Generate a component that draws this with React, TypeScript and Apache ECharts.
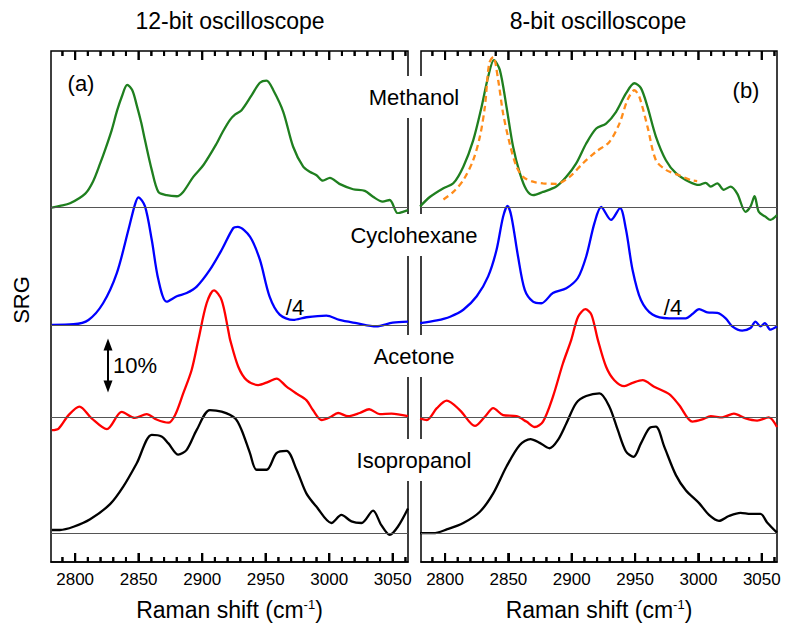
import React, { useEffect, useRef } from 'react';
import * as echarts from 'echarts';

// ---------- axes ----------
const X_MIN = 2781;
const X_MAX = 3062;
const Y_MIN = 0;
const Y_MAX = 95;
const majorTicks = [2800, 2850, 2900, 2950, 3000, 3050];
const minorTicks = [2790, 2800, 2810, 2820, 2830, 2840, 2850, 2860, 2870, 2880, 2890, 2900, 2910, 2920, 2930, 2940, 2950, 2960, 2970, 2980, 2990, 3000, 3010, 3020, 3030, 3040, 3050, 3060];

// ---------- baselines (SRG %, stacked offsets) ----------
const offMethanol = 65.9;
const offCyclohexane = 44.1;
const offAcetone = 27.0;
const offIsopropanol = 5.35;

const panelTitles = ['12-bit oscilloscope', '8-bit oscilloscope'];
const compoundNames = ['Methanol', 'Cyclohexane', 'Acetone', 'Isopropanol'];

// ---------- 12-bit oscilloscope (a) ----------
const methanol12: [number, number][] = [
  [2781.7, 0], [2788, 0.3], [2796, 0.8], [2808, 2.6], [2814, 4.8], [2819.7, 8.2], [2824, 11], [2828.8, 14.4],
  [2833, 18], [2836.7, 20.6], [2841, 22.8], [2845, 21.8], [2848.5, 19.0], [2852, 15.8], [2855, 12.5], [2860.3, 7.0],
  [2865.5, 2.9], [2872, 2.3], [2880, 2.1], [2885, 2.9], [2893, 5.7], [2901, 7.9], [2911.4, 11.9], [2916, 14],
  [2921.9, 16.3], [2926, 17.3], [2931, 18.1], [2939, 20.9], [2945.4, 23.2], [2950.7, 23.6], [2956, 21.8],
  [2963.8, 17.8], [2971.6, 11.3], [2979.5, 7.6], [2985, 6.6], [2990, 6.0], [2995, 5.0], [3000.5, 5.5], [3008, 4.4],
  [3018.8, 3.4], [3028, 3.1], [3034.5, 2.0], [3042, 1.1], [3047.6, 1.4], [3054, -1.1], [3058, -0.8], [3062, -0.5],
];
const cyclohexane12: [number, number][] = [
  [2781.7, 0], [2798.7, 0.1], [2810.5, 0.9], [2822, 4.0], [2832.8, 9.6], [2842, 17.7], [2847, 22.3], [2849.8, 23.7],
  [2855, 22.0], [2860.3, 15.8], [2865.5, 8.4], [2872, 4.3], [2880, 5.3], [2887.8, 5.9], [2895.7, 7.1], [2906, 10.2],
  [2915.3, 13.9], [2924.5, 18.0], [2928, 18.2], [2937.6, 16.4], [2945.4, 12.1], [2953, 5.3], [2961, 1.9],
  [2971.6, 0.9], [2982, 1.4], [2997.8, 1.7], [3008, 0.9], [3021.5, 0.3], [3037, -0.3], [3050, 0.4], [3062, 0.6],
];
const acetone12: [number, number][] = [
  [2781.7, -2.5], [2787, -2.2], [2794.8, 0.3], [2803.4, 1.9], [2813, -0.3], [2825, -2.3], [2836.7, 0.9],
  [2847, -0.2], [2856.3, 0.5], [2864, -0.5], [2873.4, -1.1], [2878.6, 0.3], [2885, 4.3], [2891.7, 8.7],
  [2897, 14.3], [2903.5, 21.1], [2909.3, 23.5], [2915.3, 21.7], [2920.5, 16.1], [2922, 14.3], [2928.4, 9.3],
  [2935, 6.8], [2944, 5.9], [2952, 6.5], [2958.5, 7.1], [2966.4, 5.6], [2974.3, 4.3], [2982, 3.1], [2987.3, 1.2],
  [2994, -0.6], [3000.5, -0.1], [3007, 0.7], [3014.8, 0.1], [3024, 0.7], [3031.4, 1.4], [3039.8, 0.5],
  [3049, 0.6], [3062, 0.1],
];
const isopropanol12: [number, number][] = [
  [2781.7, 0.6], [2788, 0.6], [2798.7, 1.2], [2811.8, 2.6], [2827.5, 5.4], [2838, 8.7], [2848.5, 13.0],
  [2860.3, 18.3], [2868, 18.0], [2873.4, 16.7], [2881.2, 14.6], [2887.8, 15.5], [2895.7, 19.2], [2906, 22.9],
  [2915.3, 22.6], [2925.8, 21.4], [2931, 19.2], [2937.6, 14.9], [2942.8, 11.8], [2950.7, 11.8], [2958.5, 14.9],
  [2966.4, 15.3], [2974.3, 11.8], [2982, 7.4], [2990, 4.9], [3001.7, 1.9], [3009.6, 3.4], [3017.5, 2.2],
  [3025.4, 1.9], [3034.5, 4.2], [3041, 1.5], [3047.6, -0.3], [3054, 1.2], [3062, 4.6],
];

// ---------- 8-bit oscilloscope (b) ----------
const methanol8: [number, number][] = [
  [2780.3, 0.2], [2788.2, 2.0], [2798.7, 3.6], [2806.5, 4.5], [2814.4, 7.6], [2822.2, 12.5], [2828.8, 18.7],
  [2834, 24.3], [2838.5, 27.4], [2843.2, 25.6], [2848.5, 18.7], [2853.7, 11.3], [2859, 6.4], [2864.2, 3.3],
  [2869.4, 2.3], [2877.3, 2.9], [2887.8, 3.9], [2895.7, 5.7], [2903.5, 8.2], [2911.4, 11.9], [2919.3, 14.7],
  [2927.1, 15.6], [2935, 17.8], [2942.8, 21.2], [2949.4, 23.1], [2954.6, 22.2], [2959.8, 18.7], [2966.4, 13.2],
  [2974.3, 8.8], [2982.2, 6.4], [2992.6, 4.8], [3000.5, 4.2], [3005.7, 4.6], [3009.7, 3.9], [3014.9, 4.5],
  [3020, 3.3], [3025.4, 3.9], [3030.6, 2.6], [3037.2, -0.8], [3041.1, 0.2], [3044.3, 2.1], [3047.6, -0.8],
  [3052.9, -1.7], [3056.8, -2.3], [3062, -1.4],
];
const methanolRef8: [number, number][] = [
  [2798.7, 1.5], [2806.5, 2.9], [2814.4, 5.1], [2822.2, 8.8], [2827.5, 13.2], [2831.4, 18.7], [2834.8, 26.8],
  [2838, 28.0], [2841.9, 23.7], [2845.8, 17.5], [2851, 11.9], [2856.4, 7.6], [2861.6, 5.7], [2869.4, 4.8],
  [2877.3, 4.5], [2887.8, 4.4], [2898.3, 5.7], [2908.7, 8.2], [2919.3, 10.4], [2929.7, 12.2], [2937.6, 15.6],
  [2944, 20.0], [2949.4, 21.8], [2953.3, 20.6], [2959.8, 15.0], [2966.4, 8.8], [2974.3, 7.0], [2984.7, 6.0],
  [2994, 5.1], [2999, 4.9],
];
const cyclohexane8: [number, number][] = [
  [2780.3, 0.3], [2793.5, 0.8], [2804, 1.5], [2814.4, 2.8], [2825, 5.3], [2834, 9.0], [2840.6, 13.9],
  [2845.8, 20.1], [2849.3, 22.1], [2852.4, 20.1], [2857.6, 12.7], [2862.9, 6.5], [2869.4, 4.3], [2876, 4.0],
  [2885.1, 5.9], [2895.7, 6.8], [2904.8, 8.7], [2911.4, 12.7], [2917.9, 18.9], [2923.2, 21.9], [2931, 19.5],
  [2938.1, 21.7], [2942.8, 17.7], [2948, 10.2], [2954.6, 4.6], [2963.7, 1.9], [2976.9, 1.2], [2990, 1.2],
  [2995.2, 2.0], [3000.5, 2.9], [3007, 2.3], [3014.9, 2.2], [3021.5, 1.2], [3026.7, -0.3], [3034.5, -1.1],
  [3041.1, -0.6], [3045, 0.6], [3049, -0.3], [3052.4, 0.3], [3056.8, -0.9], [3062, -0.3],
];
const acetone8: [number, number][] = [
  [2780.3, -0.3], [2785.6, -0.6], [2793.5, 1.6], [2801.3, 3.0], [2811.8, 1.2], [2823.6, -1.7], [2831.4, 0],
  [2838, 1.6], [2845.8, 0.3], [2856.4, 0.1], [2864.2, -0.9], [2870.8, -1.9], [2877.3, -0.9], [2885.1, 3.7],
  [2893, 9.9], [2899.6, 14.3], [2905, 18.6], [2910.8, 20.0], [2915.5, 19.0], [2920.6, 14.3], [2927.1, 9.3],
  [2933.6, 6.8], [2941.5, 5.7], [2948, 6.3], [2955.9, 6.8], [2965, 5.6], [2976.9, 4.2], [2984.7, 2.2],
  [2995.2, -0.9], [3003, -0.5], [3009.7, 0.1], [3018.8, -0.1], [3028, 0.6], [3037.2, -0.3], [3046.3, -0.7],
  [3055.5, -0.1], [3062, -1.9],
];
const isopropanol8: [number, number][] = [
  [2780.3, 0], [2790.8, 0], [2801.3, 0.7], [2814.4, 1.9], [2827.5, 4.0], [2838, 7.4], [2848.5, 12.4],
  [2859, 16.4], [2867.4, 17.5], [2874.7, 16.8], [2882.5, 15.8], [2889, 17.3], [2895.7, 20.4], [2903.5, 24.2],
  [2911.4, 25.5], [2921.9, 26.0], [2929.7, 23.5], [2936.3, 19.2], [2942.8, 15.2], [2948.8, 14.2],
  [2954.6, 16.7], [2961.2, 19.5], [2966.4, 19.8], [2973, 16.1], [2982.2, 10.8], [2990, 8.0], [3000.5, 5.6],
  [3008.3, 3.4], [3016.2, 2.3], [3024, 3.2], [3033.2, 3.8], [3041.1, 3.6], [3049, 3.6], [3054.2, 2.0],
  [3062, 0.1],
];

// ---------- layout ----------
const FONT = 'Liberation Sans, Arial, Helvetica, sans-serif';
const GRID_TOP = 51;
const GRID_H = 511;
const GRIDS = [
  { left: 51, width: 357 },
  { left: 421, width: 356 },
];
const PX_PER_UNIT = GRID_H / (Y_MAX - Y_MIN);
const MAJOR_LEN = 9;
const MINOR_LEN = 5;
const TICK_W = 2;

function makeXAxis(gridIndex: number) {
  return {
    type: 'value',
    gridIndex,
    position: 'bottom',
    min: X_MIN,
    max: X_MAX,
    splitLine: { show: false },
    axisLine: { show: true, onZero: false, lineStyle: { color: '#000', width: 1.5 } },
    axisTick: {
      show: true,
      inside: true,
      length: MAJOR_LEN,
      customValues: majorTicks,
      lineStyle: { color: '#000', width: TICK_W },
    },
    axisLabel: {
      show: true,
      customValues: majorTicks,
      color: '#000',
      fontSize: 17,
      fontFamily: FONT,
      margin: 9,
      formatter: (v: number) => String(Math.round(v)),
    },
    name: '{n|Raman shift (cm}{s|-1}{n|)}',
    nameLocation: 'middle',
    nameGap: 36,
    nameTextStyle: {
      rich: {
        n: { fontSize: 23, fontFamily: FONT, color: '#000' },
        s: { fontSize: 13, fontFamily: FONT, color: '#000', verticalAlign: 'top' },
      },
    },
  };
}

// inward ticks (bottom & top) placed through the axis scales
function makeTicks(gridIndex: number) {
  return {
    type: 'custom',
    xAxisIndex: gridIndex,
    yAxisIndex: gridIndex,
    data: minorTicks.map((t) => [t, Y_MIN]),
    renderItem: (params: any, api: any) => {
      const x = api.value(0);
      const b = api.coord([x, Y_MIN]);
      const t = api.coord([x, Y_MAX]);
      const len = majorTicks.indexOf(x) >= 0 ? MAJOR_LEN : MINOR_LEN;
      return {
        type: 'group',
        children: [
          { type: 'line', shape: { x1: b[0], y1: b[1], x2: b[0], y2: b[1] - len }, style: { stroke: '#000', lineWidth: TICK_W } },
          { type: 'line', shape: { x1: t[0], y1: t[1], x2: t[0], y2: t[1] + len }, style: { stroke: '#000', lineWidth: TICK_W } },
        ],
      };
    },
  };
}

function makeLine(
  name: string,
  data: [number, number][],
  offset: number,
  color: string,
  gridIndex: number,
  dashed = false,
  baseline = true,
) {
  const s: any = {
    name,
    type: 'line',
    xAxisIndex: gridIndex,
    yAxisIndex: gridIndex,
    data: data.map(([x, v]) => [x, v + offset]),
    showSymbol: false,
    symbol: 'none',
    smooth: 0.3,
    lineStyle: { color, width: 2.3, type: dashed ? [6, 4] : 'solid' },
  };
  if (baseline) {
    s.markLine = {
      silent: true,
      symbol: ['none', 'none'],
      label: { show: false },
      lineStyle: { color: '#555', width: 1, type: 'solid' },
      data: [{ yAxis: offset }],
    };
  }
  return s;
}

function txt(text: string, x: number, y: number, size: number, extra: any = {}) {
  return {
    type: 'text',
    x,
    y,
    z: 100,
    ...extra,
    style: {
      text,
      font: `${size}px ${FONT}`,
      fill: '#000',
      align: 'center',
      verticalAlign: 'middle',
      ...(extra.style || {}),
    },
  };
}

export default function App() {
  const ref = useRef<HTMLDivElement>(null);

  useEffect(() => {
    if (!ref.current) return;
    const chart = echarts.init(ref.current, undefined, { renderer: 'svg' });

    const arrowX = 108;
    const arrowMid = 365.5;
    const arrowTop = arrowMid - 5 * PX_PER_UNIT;
    const arrowBot = arrowMid + 5 * PX_PER_UNIT;
    const whiteBox = { style: { backgroundColor: '#fff', padding: [10, 4, 10, 4] } };

    const option: any = {
      animation: false,
      grid: GRIDS.map((g) => ({
        left: g.left,
        width: g.width,
        top: GRID_TOP,
        height: GRID_H,
        show: true,
        borderColor: '#000',
        borderWidth: 1.5,
      })),
      xAxis: [makeXAxis(0), makeXAxis(1)],
      yAxis: [0, 1].map((gi) => ({
        type: 'value',
        gridIndex: gi,
        min: Y_MIN,
        max: Y_MAX,
        show: false,
      })),
      series: [
        makeLine('Methanol (12-bit)', methanol12, offMethanol, '#1f7f1f', 0),
        makeLine('Cyclohexane (12-bit)', cyclohexane12, offCyclohexane, '#0000ff', 0),
        makeLine('Acetone (12-bit)', acetone12, offAcetone, '#ff0000', 0),
        makeLine('Isopropanol (12-bit)', isopropanol12, offIsopropanol, '#000000', 0),
        makeLine('Methanol (8-bit)', methanol8, offMethanol, '#1f7f1f', 1),
        makeLine('Methanol reference', methanolRef8, offMethanol, '#ff8c1a', 1, true, false),
        makeLine('Cyclohexane (8-bit)', cyclohexane8, offCyclohexane, '#0000ff', 1),
        makeLine('Acetone (8-bit)', acetone8, offAcetone, '#ff0000', 1),
        makeLine('Isopropanol (8-bit)', isopropanol8, offIsopropanol, '#000000', 1),
        makeTicks(0),
        makeTicks(1),
      ],
    };

    chart.setOption(option);

    // the same ticks once more as graphic lines, through the axes' own scales
    const tickEls: any[] = [];
    [0, 1].forEach((gi) => {
      const yb = chart.convertToPixel({ yAxisIndex: gi } as any, Y_MIN) as number;
      const yt = chart.convertToPixel({ yAxisIndex: gi } as any, Y_MAX) as number;
      minorTicks.forEach((t) => {
        const px = chart.convertToPixel({ xAxisIndex: gi } as any, t) as number;
        const len = majorTicks.indexOf(t) >= 0 ? MAJOR_LEN : MINOR_LEN;
        tickEls.push(
          { type: 'line', shape: { x1: px, y1: yb, x2: px, y2: yb - len }, style: { stroke: '#000', lineWidth: TICK_W } },
          { type: 'line', shape: { x1: px, y1: yt, x2: px, y2: yt + len }, style: { stroke: '#000', lineWidth: TICK_W } },
        );
      });
    });

    const graphics: any[] = [
      ...tickEls,
      txt(panelTitles[0], 230, 21, 23),
      txt(panelTitles[1], 598, 21, 23),
      txt('(a)', 81, 83, 22),
      txt('(b)', 746, 90, 22),
      txt(compoundNames[0], 414, 97, 22, whiteBox),
      txt(compoundNames[1], 414, 235, 22, whiteBox),
      txt(compoundNames[2], 414, 356, 22, whiteBox),
      txt(compoundNames[3], 414, 460, 22, whiteBox),
      txt('/4', 295, 307, 22),
      txt('/4', 673, 307, 22),
      txt('10%', 135, 365, 22),
      txt('SRG', 21, 300, 22, { rotation: Math.PI / 2 }),
      {
        type: 'line',
        z: 100,
        shape: { x1: arrowX, y1: arrowTop + 6, x2: arrowX, y2: arrowBot - 6 },
        style: { stroke: '#000', lineWidth: 2 },
      },
      {
        type: 'polygon',
        z: 100,
        shape: { points: [[arrowX, arrowTop], [arrowX - 4.5, arrowTop + 12], [arrowX + 4.5, arrowTop + 12]] },
        style: { fill: '#000' },
      },
      {
        type: 'polygon',
        z: 100,
        shape: { points: [[arrowX, arrowBot], [arrowX - 4.5, arrowBot - 12], [arrowX + 4.5, arrowBot - 12]] },
        style: { fill: '#000' },
      },
    ];

    chart.setOption({ graphic: graphics });
    return () => chart.dispose();
  }, []);

  return (
    <div
      ref={ref}
      style={{ position: 'fixed', left: 0, top: 0, width: 788, height: 632, background: '#fff' }}
    />
  );
}
